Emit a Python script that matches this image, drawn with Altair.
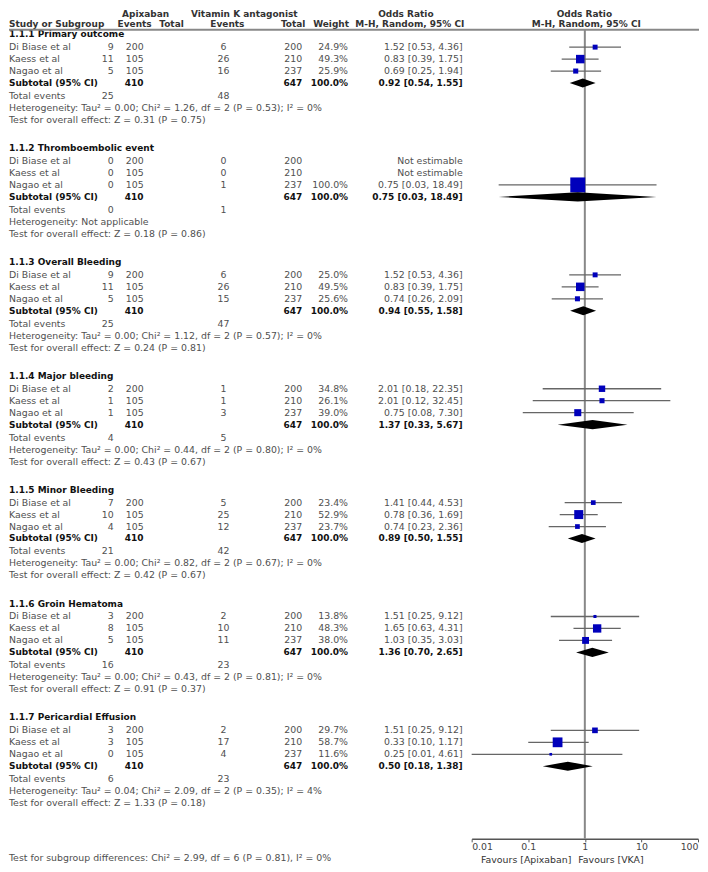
import altair as alt
import pandas as pd

# ---------------- data ----------------
groups = ["1.1.1 Primary outcome", "1.1.2 Thromboembolic event", "1.1.3 Overall Bleeding",
          "1.1.4 Major bleeding", "1.1.5 Minor Bleeding", "1.1.6 Groin Hematoma",
          "1.1.7 Pericardial Effusion"]
studies = ["Di Biase et al", "Kaess et al", "Nagao et al"]
apix_events = [[9, 11, 5], [0, 0, 0], [9, 11, 5], [2, 1, 1], [7, 10, 4], [3, 8, 5], [3, 3, 0]]
apix_total = [200, 105, 105]
vka_events = [[6, 26, 16], [0, 0, 1], [6, 26, 15], [1, 1, 3], [5, 25, 12], [2, 10, 11], [2, 17, 4]]
vka_total = [200, 210, 237]
weights = [[24.9, 49.3, 25.9], [None, None, 100.0], [25.0, 49.5, 25.6], [34.8, 26.1, 39.0],
           [23.4, 52.9, 23.7], [13.8, 48.3, 38.0], [29.7, 58.7, 11.6]]
or_est = [[1.52, 0.83, 0.69], [None, None, 0.75], [1.52, 0.83, 0.74], [2.01, 2.01, 0.75],
          [1.41, 0.78, 0.74], [1.51, 1.65, 1.03], [1.51, 0.33, 0.25]]
or_lo = [[0.53, 0.39, 0.25], [None, None, 0.03], [0.53, 0.39, 0.26], [0.18, 0.12, 0.08],
         [0.44, 0.36, 0.23], [0.25, 0.63, 0.35], [0.25, 0.10, 0.01]]
or_hi = [[4.36, 1.75, 1.94], [None, None, 18.49], [4.36, 1.75, 2.09], [22.35, 32.45, 7.30],
         [4.53, 1.69, 2.36], [9.12, 4.31, 3.03], [9.12, 1.17, 4.61]]
sub_total_apix = [410] * 7
sub_total_vka = [647] * 7
sub_or = [0.92, 0.75, 0.94, 1.37, 0.89, 1.36, 0.50]
sub_lo = [0.54, 0.03, 0.55, 0.33, 0.50, 0.70, 0.18]
sub_hi = [1.55, 18.49, 1.58, 5.67, 1.55, 2.65, 1.38]
tot_events_apix = [25, 0, 25, 4, 21, 16, 6]
tot_events_vka = [48, 1, 47, 5, 42, 23, 23]
heterogeneity = [
    "Heterogeneity: Tau² = 0.00; Chi² = 1.26, df = 2 (P = 0.53); I² = 0%",
    "Heterogeneity: Not applicable",
    "Heterogeneity: Tau² = 0.00; Chi² = 1.12, df = 2 (P = 0.57); I² = 0%",
    "Heterogeneity: Tau² = 0.00; Chi² = 0.44, df = 2 (P = 0.80); I² = 0%",
    "Heterogeneity: Tau² = 0.00; Chi² = 0.82, df = 2 (P = 0.67); I² = 0%",
    "Heterogeneity: Tau² = 0.00; Chi² = 0.43, df = 2 (P = 0.81); I² = 0%",
    "Heterogeneity: Tau² = 0.04; Chi² = 2.09, df = 2 (P = 0.35); I² = 4%",
]
overall = [
    "Test for overall effect: Z = 0.31 (P = 0.75)",
    "Test for overall effect: Z = 0.18 (P = 0.86)",
    "Test for overall effect: Z = 0.24 (P = 0.81)",
    "Test for overall effect: Z = 0.43 (P = 0.67)",
    "Test for overall effect: Z = 0.42 (P = 0.67)",
    "Test for overall effect: Z = 0.91 (P = 0.37)",
    "Test for overall effect: Z = 1.33 (P = 0.18)",
]
subgroup_test = "Test for subgroup differences: Chi² = 2.99, df = 6 (P = 0.81), I² = 0%"
axis_ticks = [0.01, 0.1, 1, 10, 100]

# ---------------- layout ----------------
W, H = 692, 832
FONT = "DejaVu Sans"
FS = 9.4      # regular text
FSB = 9       # bold text
Y0, STEP = 25, 114.2
OFF = [0, 13, 25, 37, 49, 62, 74, 86]
DIA_H = 4.6
GRAY_TXT = "#505050"
BLACK_TXT = "#111111"

XS = alt.Scale(type="log", domain=[0.01, 100], range=[464, 691], nice=False)
YS = alt.Scale(domain=[0, H], range=[0, H], nice=False, zero=False)
AX = alt.Axis(values=axis_ticks, format="~g", title=None, grid=False, domainColor="#555",
              domainWidth=1.5, tickColor="#555", tickSize=3, labelFont=FONT, labelFontSize=FS,
              labelColor="#444", labelPadding=1)


def fmt_ci(o, l, h):
    return f"{o:.2f} [{l:.2f}, {h:.2f}]"


texts = []
forest = []
diamonds = []
for g, name in enumerate(groups):
    base = Y0 + g * STEP
    texts.append(dict(y=base + OFF[0], col="name", text=name, bold=True))
    for i, s in enumerate(studies):
        y = base + OFF[i + 1]
        texts.append(dict(y=y, col="name", text=s, bold=False))
        texts.append(dict(y=y, col="e1", text=str(apix_events[g][i]), bold=False))
        texts.append(dict(y=y, col="t1", text=str(apix_total[i]), bold=False))
        texts.append(dict(y=y, col="e2", text=str(vka_events[g][i]), bold=False))
        texts.append(dict(y=y, col="t2", text=str(vka_total[i]), bold=False))
        if weights[g][i] is not None:
            texts.append(dict(y=y, col="w", text=f"{weights[g][i]:.1f}%", bold=False))
            texts.append(dict(y=y, col="ci", text=fmt_ci(or_est[g][i], or_lo[g][i], or_hi[g][i]), bold=False))
            forest.append(dict(y=y, est=or_est[g][i], lo=or_lo[g][i], hi=or_hi[g][i], w=weights[g][i]))
        else:
            texts.append(dict(y=y, col="ci", text="Not estimable", bold=False))
    ys = base + OFF[4]
    texts.append(dict(y=ys, col="name", text="Subtotal (95% CI)", bold=True))
    texts.append(dict(y=ys, col="t1", text=str(sub_total_apix[g]), bold=True))
    texts.append(dict(y=ys, col="t2", text=str(sub_total_vka[g]), bold=True))
    texts.append(dict(y=ys, col="w", text="100.0%", bold=True))
    texts.append(dict(y=ys, col="ci", text=fmt_ci(sub_or[g], sub_lo[g], sub_hi[g]), bold=True))
    diamonds += [dict(g=g, x=sub_lo[g], ya=ys, yb=ys),
                 dict(g=g, x=sub_or[g], ya=ys - DIA_H, yb=ys + DIA_H),
                 dict(g=g, x=sub_hi[g], ya=ys, yb=ys)]
    yt = base + OFF[5]
    texts.append(dict(y=yt, col="name", text="Total events", bold=False))
    texts.append(dict(y=yt, col="e1", text=str(tot_events_apix[g]), bold=False))
    texts.append(dict(y=yt, col="e2", text=str(tot_events_vka[g]), bold=False))
    texts.append(dict(y=base + OFF[6], col="name", text=heterogeneity[g], bold=False))
    texts.append(dict(y=base + OFF[7], col="name", text=overall[g], bold=False))

tdf = pd.DataFrame(texts)
fdf = pd.DataFrame(forest)
ddf = pd.DataFrame(diamonds)

COLS = {"name": (0, "left"), "e1": (105, "right"), "t1": (135, "right"), "e2": (215, "center"),
        "t2": (294, "right"), "w": (340, "right"), "ci": (455, "right")}

layers = []
for col, (xp, al) in COLS.items():
    for bold in (False, True):
        sub = tdf[(tdf.col == col) & (tdf.bold == bold)]
        if len(sub) == 0:
            continue
        layers.append(
            alt.Chart(sub).mark_text(align=al, baseline="middle", font=FONT,
                                     fontSize=FSB if bold else FS,
                                     fontWeight="bold" if bold else "normal",
                                     color=BLACK_TXT if bold else GRAY_TXT)
            .encode(x=alt.value(xp), y=alt.Y("y:Q", scale=YS, axis=None), text="text:N")
        )

# headers
hdr1 = pd.DataFrame({"text": ["Apixaban", "Vitamin K antagonist", "Odds Ratio", "Odds Ratio"],
                     "x": [137, 236, 398, 577]})
hdr2 = pd.DataFrame({"text": ["Events", "Total", "Events", "Total", "Weight",
                              "M-H, Random, 95% CI", "M-H, Random, 95% CI"],
                     "x": [126, 163, 219, 285, 323, 402, 579]})
for df, yv in ((hdr1, 5), (hdr2, 15)):
    for _, r in df.iterrows():
        layers.append(
            alt.Chart(pd.DataFrame({"t": [r["text"]]})).mark_text(
                align="center", baseline="middle", font=FONT, fontSize=FSB, fontWeight="bold",
                color="#333")
            .encode(x=alt.value(int(r["x"])), y=alt.value(yv), text="t:N"))
layers.append(
    alt.Chart(pd.DataFrame({"t": ["Study or Subgroup"]})).mark_text(
        align="left", baseline="middle", font=FONT, fontSize=FSB, fontWeight="bold", color="#333")
    .encode(x=alt.value(0), y=alt.value(15), text="t:N"))

# header separator line
layers.append(
    alt.Chart(pd.DataFrame({"a": [0]})).mark_rule(color="#888", strokeWidth=2)
    .encode(x=alt.value(0), x2=alt.value(W), y=alt.value(20.5)))

# vertical line of no effect (carries the axis)
layers.append(
    alt.Chart(pd.DataFrame({"v": [1]})).mark_rule(color="#888", strokeWidth=2)
    .encode(x=alt.X("v:Q", scale=XS, axis=AX), y=alt.value(20.5), y2=alt.value(H)))

# CI lines
layers.append(
    alt.Chart(fdf).mark_rule(color="#666", strokeWidth=1.3)
    .encode(x=alt.X("lo:Q", scale=XS, axis=AX), x2="hi:Q", y=alt.Y("y:Q", scale=YS, axis=None)))
# squares
layers.append(
    alt.Chart(fdf).mark_square(color="#0000bb", opacity=1)
    .encode(x=alt.X("est:Q", scale=XS, axis=AX), y=alt.Y("y:Q", scale=YS, axis=None),
            size=alt.Size("w:Q", scale=alt.Scale(type="pow", exponent=1.6, domain=[0, 100],
                                                 range=[0, 225]), legend=None)))
# diamonds
layers.append(
    alt.Chart(ddf).mark_area(color="black", opacity=1)
    .encode(x=alt.X("x:Q", scale=XS, axis=AX), y=alt.Y("ya:Q", scale=YS, axis=None), y2="yb:Q",
            detail="g:N"))

# bottom texts
layers.append(
    alt.Chart(pd.DataFrame({"t": [subgroup_test]})).mark_text(
        align="left", baseline="middle", font=FONT, fontSize=FS, color=GRAY_TXT)
    .encode(x=alt.value(0), y=alt.value(851), text="t:N"))
layers.append(
    alt.Chart(pd.DataFrame({"t": ["Favours [Apixaban]"]})).mark_text(
        align="right", baseline="middle", font=FONT, fontSize=FS, color="#333")
    .encode(x=alt.value(564), y=alt.value(853), text="t:N"))
layers.append(
    alt.Chart(pd.DataFrame({"t": ["Favours [VKA]"]})).mark_text(
        align="left", baseline="middle", font=FONT, fontSize=FS, color="#333")
    .encode(x=alt.value(571), y=alt.value(853), text="t:N"))

chart = alt.layer(*layers).properties(width=W, height=H, padding=0).configure_view(stroke=None)
chart.save("out.html", embed_options={"renderer": "svg", "actions": False})
